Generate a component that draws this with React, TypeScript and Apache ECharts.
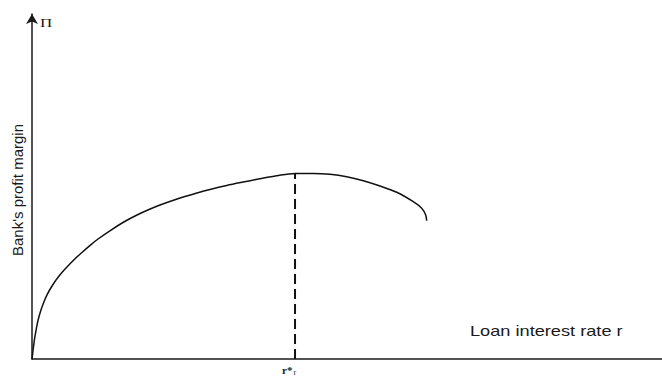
import React, { useEffect, useRef } from "react";
import * as echarts from "echarts";

// Loan interest rate (x) and bank's profit margin (y), arbitrary units 0..100
const rateValues = [
  0, 0.05, 0.19, 0.43, 0.71, 0.95, 1.35, 1.75, 2.38, 3.33, 4.29, 5.44, 6.59, 7.83, 9.13, 10.48,
  12.54, 14.71, 16.67, 18.57, 20.32, 22.22, 24.13, 26.19, 28.25, 30.9, 33.54, 36.19, 38.84, 41.75,
  44.65, 47.3, 49.95, 52.59, 55.24, 57.89, 60.52, 61.86, 62.49, 62.65,
];
const profitValues = [
  0, 0.72, 2.9, 6.09, 8.99, 11.16, 13.77, 15.88, 18.61, 21.59, 24.06, 26.46, 28.64, 30.72, 32.81, 34.78,
  37.39, 39.86, 41.74, 43.33, 44.64, 45.88, 47.01, 48.12, 49.13, 50.29, 51.3, 52.26, 53.13, 53.77,
  53.8, 53.54, 52.84, 51.68, 50.14, 48.32, 45.59, 43.68, 41.74, 40.09,
];

// Profit-maximising rate r* and the profit it yields
const optimalRate = 41.75;
const maxProfit = 53.77;

const yAxisTitle = "Bank's profit margin";
const xAxisTitle = "Loan interest rate r";
const yAxisSymbol = "\u03A0";

export default function App() {
  const ref = useRef<HTMLDivElement>(null);

  useEffect(() => {
    if (!ref.current) return;
    const chart = echarts.init(ref.current, null, { renderer: "svg" });
    const curve = rateValues.map((x, i) => [x, profitValues[i]]);

    chart.setOption({
      animation: false,
      backgroundColor: "#ffffff",
      grid: { left: 32, right: 0, top: 14, bottom: 19, containLabel: false },
      xAxis: {
        type: "value",
        min: 0,
        max: 100,
        axisLine: { show: true, onZero: false, lineStyle: { color: "#1a1a1a", width: 1.5 } },
        axisTick: { show: false },
        axisLabel: { show: false },
        splitLine: { show: false },
      },
      yAxis: {
        type: "value",
        min: 0,
        max: 100,
        axisLine: {
          show: true,
          onZero: false,
          symbol: ["none", "arrow"],
          symbolSize: [9, 10],
          lineStyle: { color: "#1a1a1a", width: 1.5 },
        },
        axisTick: { show: false },
        axisLabel: { show: false },
        splitLine: { show: false },
      },
      series: [
        {
          type: "line",
          data: curve,
          smooth: 0.35,
          showSymbol: false,
          lineStyle: { color: "#111111", width: 1.5, join: "round" },
        },
        {
          type: "line",
          data: [
            [optimalRate, 0],
            [optimalRate, maxProfit],
          ],
          showSymbol: false,
          lineStyle: { color: "#111111", width: 2, type: [10, 5] },
        },
      ],
      graphic: [
        // faint break in the rate axis just left of r*
        {
          type: "rect",
          shape: { x: 268, y: 356, width: 22, height: 6 },
          silent: true,
          style: {
            fill: new echarts.graphic.LinearGradient(0, 0, 1, 0, [
              { offset: 0, color: "rgba(255,255,255,0)" },
              { offset: 0.6, color: "rgba(255,255,255,0.85)" },
              { offset: 1, color: "rgba(255,255,255,0.9)" },
            ]),
          },
        },
        {
          type: "text",
          x: 40,
          y: 23,
          scaleX: 1.3,
          style: {
            text: yAxisSymbol,
            x: 0,
            y: 0,
            fontFamily: "Liberation Serif",
            fontSize: 13,
            fill: "#1a1a1a",
            align: "left",
            verticalAlign: "middle",
          },
        },
        {
          type: "text",
          x: 17,
          y: 190,
          rotation: Math.PI / 2,
          style: {
            text: yAxisTitle,
            x: 0,
            y: 0,
            fontFamily: "Liberation Sans",
            fontSize: 15,
            fill: "#1a1a1a",
            align: "center",
            verticalAlign: "middle",
          },
        },
        {
          type: "text",
          x: 470,
          y: 331,
          scaleX: 1.3,
          style: {
            text: xAxisTitle,
            x: 0,
            y: 0,
            fontFamily: "Liberation Sans",
            fontSize: 14,
            fill: "#1a1a1a",
            align: "left",
            verticalAlign: "middle",
          },
        },
        {
          type: "text",
          x: 282,
          y: 370,
          style: {
            text: "{m|r*}{s|r}",
            x: 0,
            y: 0,
            align: "left",
            verticalAlign: "middle",
            rich: {
              m: { fontFamily: "Liberation Serif", fontSize: 11, fill: "#1a1a1a", fontWeight: "bold" },
              s: { fontFamily: "Liberation Serif", fontSize: 8, fill: "#1a1a1a", padding: [4, 0, 0, 1] },
            },
          },
        },
      ],
    });

    return () => chart.dispose();
  }, []);

  return (
    <div
      ref={ref}
      style={{ position: "fixed", left: 0, top: 0, width: 662, height: 378 }}
    />
  );
}
